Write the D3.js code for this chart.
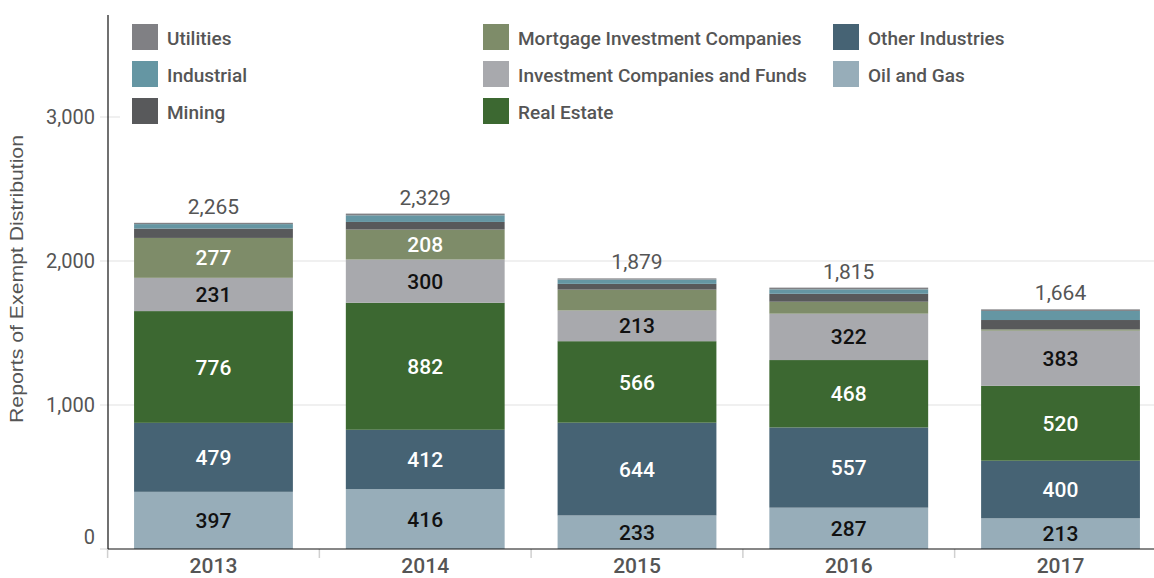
<!DOCTYPE html>
<html>
<head>
<meta charset="utf-8">
<script src="https://cdn.jsdelivr.net/npm/d3@7"></script>
<style>
  html, body { margin: 0; padding: 0; background: #fff; }
  svg { display: block; font-family: Roboto, "Liberation Sans", Arial, sans-serif; }
</style>
</head>
<body>
<svg id="chart" width="1154" height="578"></svg>
<script>
const years = ["2013", "2014", "2015", "2016", "2017"];
const seriesNames = ["Oil and Gas", "Other Industries", "Real Estate", "Investment Companies and Funds",
  "Mortgage Investment Companies", "Mining", "Industrial", "Utilities"];
const oilGas        = [397, 416, 233, 287, 213];
const otherInd      = [479, 412, 644, 557, 400];
const realEstate    = [776, 882, 566, 468, 520];
const investFunds   = [231, 300, 213, 322, 383];
const mortgage      = [277, 208, 145, 83, 9];
const mining        = [65, 53, 40, 55, 65];
const industrial    = [31, 46, 30, 31, 63];
const utilities     = [9, 12, 8, 12, 11];
const totals        = [2265, 2329, 1879, 1815, 1664];
const yTicks        = [0, 1000, 2000, 3000];
const showLabel     = ["Oil and Gas", "Other Industries", "Real Estate", "Investment Companies and Funds", "Mortgage Investment Companies"];
const darkText      = ["Oil and Gas", "Investment Companies and Funds"];

const colors = {
  "Utilities": "#808084",
  "Industrial": "#6596a3",
  "Mining": "#58595b",
  "Mortgage Investment Companies": "#7e8c69",
  "Investment Companies and Funds": "#a8a9ad",
  "Real Estate": "#3c6831",
  "Other Industries": "#466374",
  "Oil and Gas": "#97adb9"
};

const valuesBy = {
  "Oil and Gas": oilGas, "Other Industries": otherInd, "Real Estate": realEstate,
  "Investment Companies and Funds": investFunds, "Mortgage Investment Companies": mortgage,
  "Mining": mining, "Industrial": industrial, "Utilities": utilities
};

const table = years.map((yr, i) => {
  const row = { year: yr };
  seriesNames.forEach(s => row[s] = valuesBy[s][i]);
  return row;
});

const svg = d3.select("#chart");
const leftX = 108, bottomY = 549, topY = 15;

const x = d3.scaleBand().domain(years).range([107.6, 1166.4]).paddingInner(0.25).paddingOuter(0.125);
const y = d3.scaleLinear().domain([0, 3708]).range([bottomY, topY]);

// gridlines
svg.append("g").selectAll("line").data(yTicks.filter(d => d > 0)).join("line")
  .attr("x1", 100).attr("x2", 1154)
  .attr("y1", d => y(d)).attr("y2", d => y(d))
  .attr("stroke", "#ebebeb").attr("stroke-width", 1.5);
svg.append("line").attr("x1", 100).attr("x2", leftX).attr("y1", y(0)).attr("y2", y(0))
  .attr("stroke", "#e0e0e0").attr("stroke-width", 1.5);

// y tick labels
svg.append("g").selectAll("text").data(yTicks).join("text")
  .attr("x", 95)
  .attr("y", d => d === 0 ? y(d) - 12 : y(d))
  .attr("dy", "0.36em")
  .attr("text-anchor", "end")
  .attr("fill", "#555")
  .attr("font-size", 20)
  .text(d => d3.format(",")(d));

// y title
svg.append("text")
  .attr("transform", `translate(23,${279}) rotate(-90)`)
  .attr("text-anchor", "middle")
  .attr("fill", "#555")
  .attr("font-family", "'Liberation Sans', Arial, sans-serif")
  .attr("font-size", 17.5)
  .attr("textLength", 288)
  .attr("lengthAdjust", "spacingAndGlyphs")
  .text("Reports of Exempt Distribution");

// stacked bars
const stacked = d3.stack().keys(seriesNames)(table);

const layers = svg.append("g").selectAll("g").data(stacked).join("g")
  .attr("fill", d => colors[d.key]);
layers.selectAll("rect").data(d => d.map(p => ({ p, key: d.key }))).join("rect")
  .attr("x", d => x(d.p.data.year))
  .attr("width", x.bandwidth())
  .attr("y", d => y(d.p[1]))
  .attr("height", d => y(d.p[0]) - y(d.p[1]));

// segment labels
const labelG = svg.append("g");
stacked.filter(s => showLabel.includes(s.key)).forEach(s => {
  s.forEach(p => {
    const v = p[1] - p[0];
    if (v < 150) return;
    labelG.append("text")
      .attr("x", x(p.data.year) + x.bandwidth() / 2)
      .attr("y", (y(p[0]) + y(p[1])) / 2)
      .attr("dy", "0.36em")
      .attr("text-anchor", "middle")
      .attr("font-size", 21)
      .attr("font-weight", 500)
      .attr("fill", darkText.includes(s.key) ? "#111" : "#fff")
      .text(v);
  });
});

// totals
svg.append("g").selectAll("text").data(years).join("text")
  .attr("x", d => x(d) + x.bandwidth() / 2)
  .attr("y", (d, i) => y(totals[i]) - 9)
  .attr("text-anchor", "middle")
  .attr("fill", "#555")
  .attr("font-size", 21)
  .text((d, i) => d3.format(",")(totals[i]));

// legend background
svg.append("rect").attr("x", 120).attr("y", topY).attr("width", 1034).attr("height", 113).attr("fill", "#fff");

const legendCols = [
  ["Utilities", "Industrial", "Mining"],
  ["Mortgage Investment Companies", "Investment Companies and Funds", "Real Estate"],
  ["Other Industries", "Oil and Gas"]
];
const colX = [132, 483, 833];
legendCols.forEach((col, ci) => {
  col.forEach((name, ri) => {
    const cy = 37 + ri * 37;
    svg.append("rect").attr("x", colX[ci]).attr("y", cy - 13).attr("width", 26).attr("height", 26)
      .attr("fill", colors[name]);
    svg.append("text").attr("x", colX[ci] + 35).attr("y", cy + 1).attr("dy", "0.36em")
      .attr("fill", "#555").attr("font-size", 19).attr("font-weight", 500).text(name);
  });
});

// axis lines
svg.append("line").attr("x1", leftX).attr("x2", leftX).attr("y1", topY).attr("y2", bottomY)
  .attr("stroke", "#111").attr("stroke-width", 1.2);
const boundaries = years.map(d => x(d) - x.step() * x.paddingInner() / 2);
svg.append("g").selectAll("line").data(boundaries).join("line")
  .attr("x1", d => d).attr("x2", d => d).attr("y1", bottomY).attr("y2", bottomY + 9)
  .attr("stroke", "#d0d0d0").attr("stroke-width", 1.5);
svg.append("line").attr("x1", leftX).attr("x2", 1154).attr("y1", bottomY).attr("y2", bottomY)
  .attr("stroke", "#111").attr("stroke-width", 1.2);

// x labels
svg.append("g").selectAll("text").data(years).join("text")
  .attr("x", d => x(d) + x.bandwidth() / 2)
  .attr("y", 573)
  .attr("text-anchor", "middle")
  .attr("fill", "#555")
  .attr("font-size", 21)
  .attr("font-weight", 500)
  .text(d => d);
</script>
</body>
</html>
